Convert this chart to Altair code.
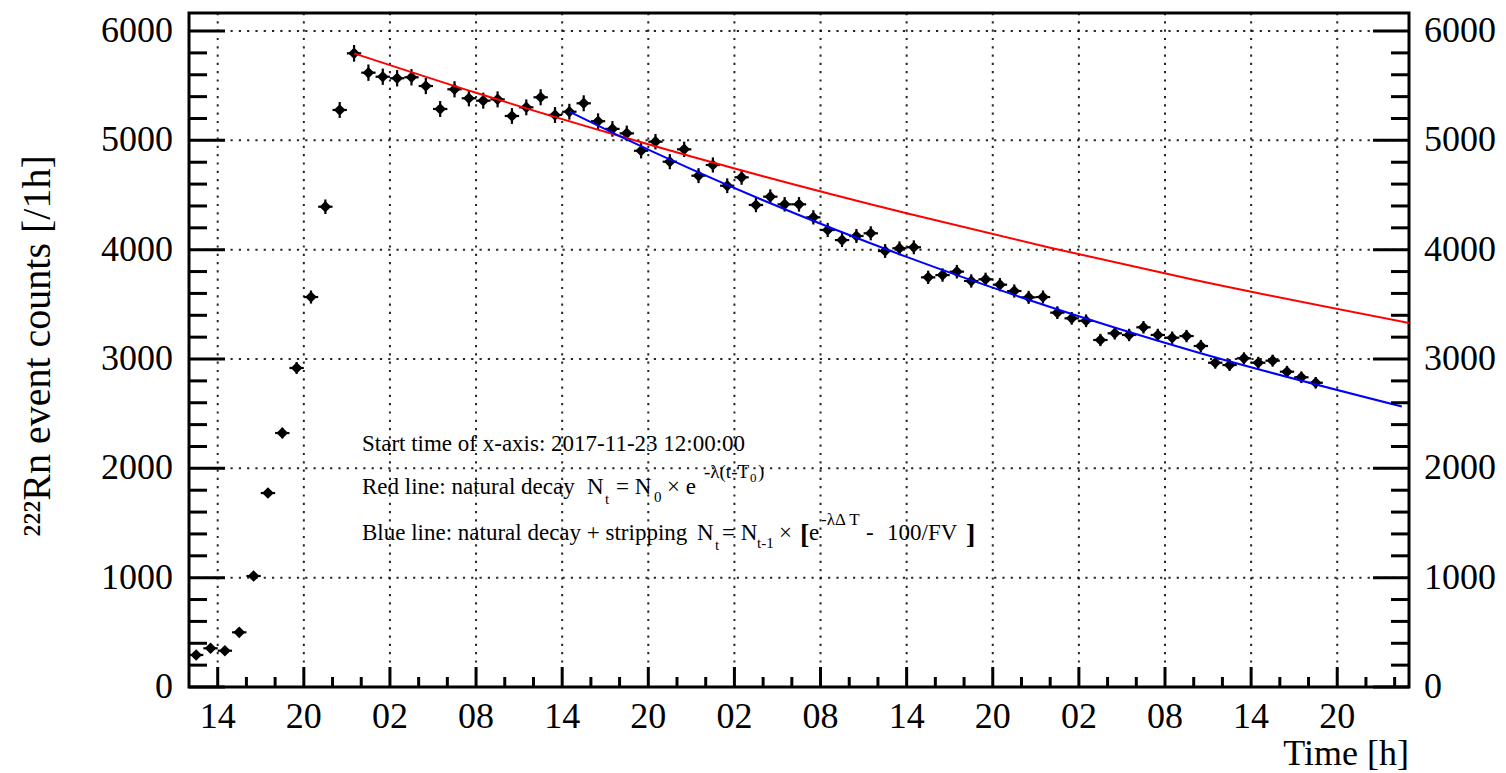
import altair as alt
import pandas as pd

W, H = 1220, 674
FONT = "Liberation Serif"
YMAX = 6165
XMAX = 85

# ---- data ----
hours = [0.5, 1.5, 2.5, 3.5, 4.5, 5.5, 6.5, 7.5, 8.5, 9.5,
         10.5, 11.5, 12.5, 13.5, 14.5, 15.5, 16.5, 17.5, 18.5, 19.5,
         20.5, 21.5, 22.5, 23.5, 24.5, 25.5, 26.5, 27.5, 28.5, 29.5,
         30.5, 31.5, 32.5, 33.5, 34.5, 35.5, 36.5, 37.5, 38.5, 39.5,
         40.5, 41.5, 42.5, 43.5, 44.5, 45.5, 46.5, 47.5, 48.5, 49.5,
         50.5, 51.5, 52.5, 53.5, 54.5, 55.5, 56.5, 57.5, 58.5, 59.5,
         60.5, 61.5, 62.5, 63.5, 64.5, 65.5, 66.5, 67.5, 68.5, 69.5,
         70.5, 71.5, 72.5, 73.5, 74.5, 75.5, 76.5, 77.5, 78.5]
counts = [293, 354, 332, 500, 1015, 1774, 2323, 2918, 3567, 4393,
          5278, 5796, 5619, 5582, 5568, 5577, 5497, 5287, 5467, 5385,
          5363, 5375, 5223, 5302, 5394, 5232, 5262, 5339, 5175, 5105,
          5064, 4905, 4988, 4805, 4918, 4677, 4775, 4585, 4662, 4409,
          4485, 4415, 4415, 4296, 4180, 4088, 4125, 4150, 3988, 4013,
          4022, 3747, 3768, 3799, 3714, 3729, 3680, 3622, 3564, 3567,
          3424, 3372, 3350, 3174, 3235, 3220, 3290, 3220, 3195, 3210,
          3119, 2966, 2945, 3006, 2966, 2985, 2884, 2833, 2783]

red_t = [11.5, 20, 30, 40, 50, 60, 70, 85]
red_v = [5796, 5435, 5040, 4672, 4333, 4018, 3725, 3330]
blue_t = [26.5, 30, 40, 50, 60, 70, 84.5]
blue_v = [5262, 5039, 4452, 3934, 3476, 3071, 2566]

y_major = [0, 1000, 2000, 3000, 4000, 5000, 6000]
y_major_labels = ["0", "1000", "2000", "3000", "4000", "5000", "6000"]
y_minor = [200, 400, 600, 800, 1200, 1400, 1600, 1800, 2200, 2400, 2600, 2800,
           3200, 3400, 3600, 3800, 4200, 4400, 4600, 4800, 5200, 5400, 5600, 5800]
x_major = [2, 8, 14, 20, 26, 32, 38, 44, 50, 56, 62, 68, 74, 80]
x_major_labels = ["14", "20", "02", "08", "14", "20", "02", "08", "14", "20",
                  "02", "08", "14", "20"]
x_minor = [4, 6, 10, 12, 16, 18, 22, 24, 28, 30, 34, 36, 40, 42, 46, 48, 52, 54,
           58, 60, 64, 66, 70, 72, 76, 78, 82, 84]

x_title = "Time [h]"
y_title = "²²²Rn event counts [/1h]"

# ---- scales ----
xs = alt.Scale(domain=[0, XMAX], nice=False, zero=False)
ys = alt.Scale(domain=[0, YMAX], nice=False, zero=True)

def X(f):
    return alt.X(f, type="quantitative", scale=xs, axis=None)

def Y(f):
    return alt.Y(f, type="quantitative", scale=ys, axis=None)

df = pd.DataFrame({"t": hours, "n": counts})
base = alt.Chart(df)

pts = base.mark_point(shape="diamond", filled=True, size=135, color="black",
                      opacity=1).encode(x=X("t"), y=Y("n"))
hbar = base.transform_calculate(t0="datum.t - 0.5", t1="datum.t + 0.5").mark_rule(
    color="black", strokeWidth=2.2).encode(x=X("t0"), x2="t1:Q", y=Y("n"))
vbar = base.transform_calculate(lo="datum.n - sqrt(datum.n)",
                                hi="datum.n + sqrt(datum.n)").mark_rule(
    color="black", strokeWidth=2.2).encode(x=X("t"), y=Y("lo"), y2="hi:Q")

red = alt.Chart(pd.DataFrame({"t": red_t, "v": red_v})).mark_line(
    color="#ff0000", strokeWidth=2, interpolate="monotone", clip=True).encode(
    x=X("t"), y=Y("v"))
blue = alt.Chart(pd.DataFrame({"t": blue_t, "v": blue_v})).mark_line(
    color="#0000ff", strokeWidth=2, interpolate="monotone", clip=True).encode(
    x=X("t"), y=Y("v"))

# ---- grid, ticks, labels (drawn by hand, ROOT style) ----
ymaj_df = pd.DataFrame({"v": y_major, "label": y_major_labels})
ymin_df = pd.DataFrame({"v": y_minor})
xmaj_df = pd.DataFrame({"v": x_major, "label": x_major_labels})
xmin_df = pd.DataFrame({"v": x_minor})

DASH = [2.2, 6.1]
hgrid = alt.Chart(ymaj_df).transform_filter("datum.v > 0").mark_rule(
    color="#000000", strokeWidth=2, strokeDash=DASH, opacity=0.85).encode(
    y=Y("v"), x=alt.value(0), x2=alt.value(W))
vgrid = alt.Chart(xmaj_df).mark_rule(
    color="#000000", strokeWidth=2, strokeDash=DASH, opacity=0.85).encode(
    x=X("v"), y=alt.value(0), y2=alt.value(H))

def yticks(d, length):
    left = alt.Chart(d).mark_rule(color="black", strokeWidth=3).encode(
        y=Y("v"), x=alt.value(0), x2=alt.value(length))
    right = alt.Chart(d).mark_rule(color="black", strokeWidth=3).encode(
        y=Y("v"), x=alt.value(W - length), x2=alt.value(W))
    return [left, right]

def xticks(d, length):
    return [alt.Chart(d).mark_rule(color="black", strokeWidth=3).encode(
        x=X("v"), y=alt.value(H), y2=alt.value(H - length))]

left_labels = alt.Chart(ymaj_df).mark_text(
    align="right", baseline="middle", font=FONT, fontSize=36, color="black").encode(
    y=Y("v"), x=alt.value(-16), text="label:N")
right_labels = alt.Chart(ymaj_df).mark_text(
    align="left", baseline="middle", font=FONT, fontSize=36, color="black").encode(
    y=Y("v"), x=alt.value(W + 15), text="label:N")
bottom_labels = alt.Chart(xmaj_df).mark_text(
    align="center", baseline="alphabetic", font=FONT, fontSize=36, color="black").encode(
    x=X("v"), y=alt.value(H + 41), text="label:N")

# ---- free text ----
def txt(s, x, y, size, weight="normal", align="left", angle=0, baseline="alphabetic"):
    return alt.Chart(alt.Data(values=[{"k": 0}])).mark_text(
        text=s, align=align, baseline=baseline, font=FONT, fontSize=size,
        fontWeight=weight, color="black", angle=angle).encode(
        x=alt.value(x), y=alt.value(y))

titles = [
    txt(x_title, W, H + 78, 36, align="right"),
    txt(y_title, -151, 333, 40, align="center", angle=270, baseline="middle"),
]

notes = [
    txt("Start time of x-axis: 2017-11-23 12:00:00", 173, 438, 23),
    txt("Red line: natural decay", 173, 481, 23),
    txt("N", 398, 481, 23),
    txt("t", 416, 491, 15),
    txt("= N", 427, 481, 23),
    txt("0", 465, 489, 15),
    txt("× e", 478, 481, 23),
    txt("-λ(t-T", 515, 465, 19),
    txt("0", 561, 469, 13),
    txt(")", 569, 465, 19),
    txt("Blue line: natural decay + stripping", 173, 527, 23),
    txt("N", 508, 527, 23),
    txt("t", 526, 537, 15),
    txt("= N", 533, 527, 23),
    txt("t-1", 568, 535, 15),
    txt("×", 590, 527, 23),
    txt("[", 611, 530, 28, weight="bold"),
    txt("e", 620, 527, 23),
    txt("-λΔ T", 632, 512, 17),
    txt("-", 677, 527, 23),
    txt("100/FV", 698, 527, 23),
    txt("]", 777, 530, 28, weight="bold"),
]

layers = ([hgrid, vgrid, pts, hbar, vbar, red, blue]
          + yticks(ymaj_df, 36) + yticks(ymin_df, 18)
          + xticks(xmaj_df, 20) + xticks(xmin_df, 10)
          + [left_labels, right_labels, bottom_labels] + titles + notes)

chart = alt.layer(*layers).properties(
    width=W, height=H,
    padding={"left": 189, "top": 13, "right": 97, "bottom": 86},
    autosize=alt.AutoSizeParams(type="none"),
    background="white",
).configure_view(stroke="black", strokeWidth=3)

chart.save("out.html", embed_options={"renderer": "svg", "actions": False})
